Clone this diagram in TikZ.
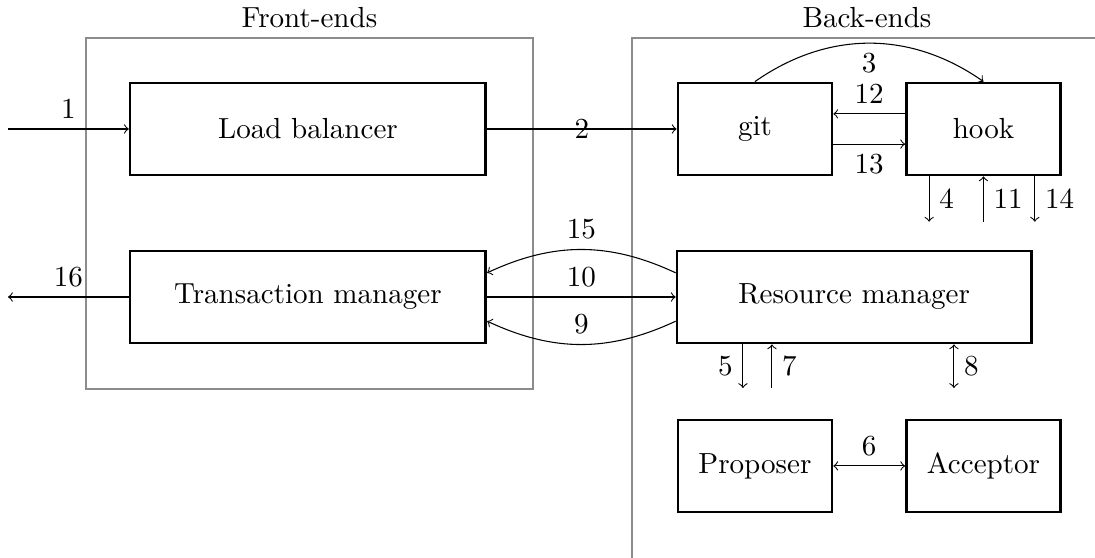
\documentclass[11pt,tikz,border=0pt]{standalone}
\usepackage{amsmath, amssymb}
\usepackage{tikz}
\usetikzlibrary{positioning, calc}
\usepackage{xcolor}

\begin{document}
\begin{tikzpicture}[
        box/.style={draw, line width=1pt, minimum width=2.04cm, minimum height=1.22cm},
        widebox/.style={box, minimum width=4.71cm},
        area/.style={draw=gray!90, thin}
    ]
            \useasboundingbox (0,0) rectangle (14.5,-7.376);

            % the two groups
            \draw[area] (1.139,-0.503) rectangle (7.058,-5.151);
            \node[above] (FrontLbl) at (4.098,-0.503) {Front-ends};
            \draw[area] (14.6,-0.503) -- (8.369,-0.503) -- (8.369,-7.6);
            \node[above] (BackLbl) at (11.48,-0.503) {Back-ends};

            % front-ends
            \node[widebox] (LB) at (4.078,-1.708) {Load balancer};
            \node[widebox] (TM) at (4.078,-3.933) {Transaction manager};

            % back-ends
            \node[box] (Git) at (9.997,-1.708) {git};
            \node[box] (Hook) at (13.023,-1.708) {hook};
            \node[widebox, minimum width=4.69cm] (RM) at (11.31,-3.933) {Resource manager};
            \node[box] (Prop) at (9.997,-6.17) {Proposer};
            \node[box] (Acc) at (13.023,-6.17) {Acceptor};

            % free ends
            \coordinate (In) at (0.106,-1.708);
            \coordinate (Out) at (0.106,-3.933);
            \coordinate (H4) at ($(Hook.south)+(-0.72,-0.6)$);
            \coordinate (H11) at ($(Hook.south)+(0,-0.6)$);
            \coordinate (H14) at ($(Hook.south)+(0.68,-0.6)$);
            \coordinate (R5) at (9.838,-5.138);
            \coordinate (R7) at (10.222,-5.138);
            \coordinate (R8) at (12.632,-5.138);

            \draw[->] (In) -- node[above] {1} (LB);
            \draw[->] (LB) -- node {2} (Git);
            \draw[->] (Git.north) to[bend left=35] node[below] {3} (Hook.north);
            \draw[->] ([yshift=0.2cm]Hook.west) -- node[above] {12} ([yshift=0.2cm]Git.east);
            \draw[->] ([yshift=-0.2cm]Git.east) -- node[below] {13} ([yshift=-0.2cm]Hook.west);

            \draw[->] (H4 |- Hook.south) -- node[right] {4} (H4);
            \draw[->] (H11) -- node[right] {11} (Hook.south);
            \draw[->] (H14 |- Hook.south) -- node[right] {14} (H14);

            \draw[->] ([yshift=0.32cm]RM.west) to[bend right=25] node[above] {15} ([yshift=0.32cm]TM.east);
            \draw[->] (TM) -- node[above] {10} (RM);
            \draw[->] ([yshift=-0.32cm]RM.west) to[bend left=25] node[above] {9} ([yshift=-0.32cm]TM.east);
            \draw[->] (TM) -- node[above] {16} (Out);

            \draw[->] (R5 |- RM.south) -- node[left] {5} (R5);
            \draw[->] (R7) -- node[right] {7} (R7 |- RM.south);
            \draw[<->] (R8 |- RM.south) -- node[right] {8} (R8);
            \draw[<->] (Prop) -- node[above] {6} (Acc);
        \end{tikzpicture}
\end{document}
